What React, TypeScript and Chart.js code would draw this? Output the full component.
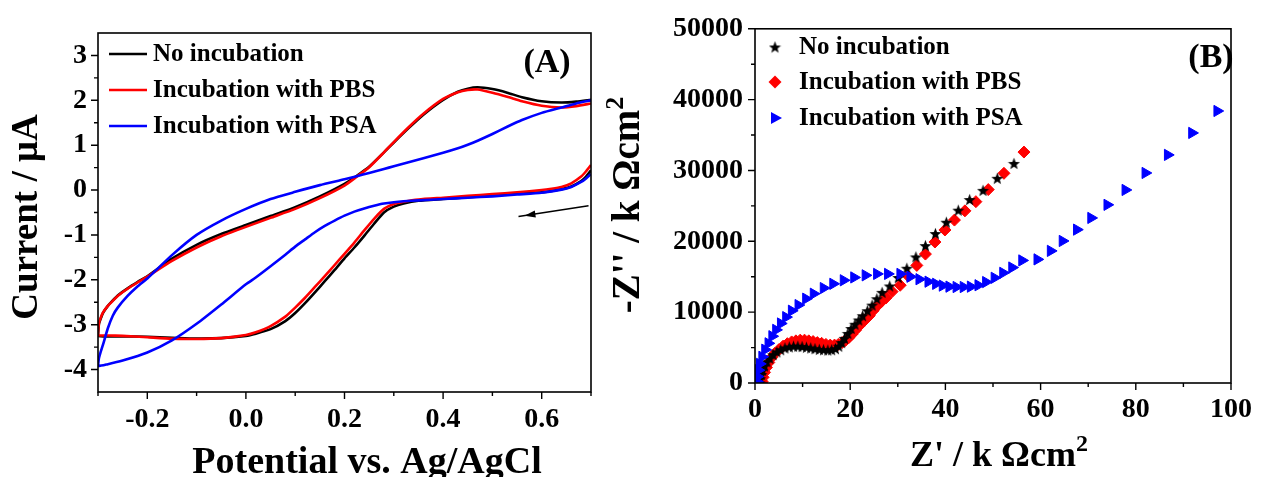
import React, { useEffect, useRef } from 'react';
import { Chart, registerables } from 'chart.js';

Chart.register(...registerables);

const SERIF = "'Liberation Serif', 'Times New Roman', serif";

const seriesNames = ['No incubation', 'Incubation with PBS', 'Incubation with PSA'];
const seriesColors = ['#000000', '#ff0000', '#0000ff'];

// ---------- Panel A : cyclic voltammograms (V vs Ag/AgCl, µA) ----------
// cathodic sweep 0.7 V -> -0.3 V
const cvPotentialCathodic = [0.70, 0.69, 0.68, 0.66, 0.64, 0.62, 0.60, 0.55, 0.50, 0.45, 0.40, 0.35, 0.32, 0.30, 0.28, 0.26, 0.24, 0.22, 0.20, 0.18, 0.16, 0.14, 0.12, 0.10, 0.08, 0.05, 0.02, 0.00, -0.05, -0.10, -0.15, -0.20, -0.25, -0.28, -0.30];
const cvNoIncCathodic = [0.44, 0.30, 0.20, 0.08, 0.02, -0.02, -0.05, -0.08, -0.12, -0.16, -0.20, -0.24, -0.30, -0.37, -0.50, -0.75, -1.02, -1.28, -1.52, -1.78, -2.03, -2.28, -2.52, -2.74, -2.92, -3.10, -3.20, -3.25, -3.30, -3.31, -3.29, -3.27, -3.26, -3.26, -3.25];
const cvPbsCathodic = [0.56, 0.42, 0.30, 0.15, 0.07, 0.03, 0.00, -0.05, -0.09, -0.13, -0.17, -0.21, -0.26, -0.31, -0.42, -0.64, -0.90, -1.17, -1.42, -1.67, -1.92, -2.16, -2.40, -2.62, -2.82, -3.03, -3.17, -3.23, -3.30, -3.32, -3.31, -3.28, -3.25, -3.24, -3.23];
const cvPsaCathodic = [0.36, 0.26, 0.18, 0.07, 0.01, -0.03, -0.06, -0.10, -0.14, -0.17, -0.20, -0.23, -0.25, -0.27, -0.30, -0.35, -0.41, -0.48, -0.57, -0.68, -0.80, -0.94, -1.10, -1.26, -1.44, -1.70, -1.95, -2.10, -2.55, -2.98, -3.35, -3.62, -3.80, -3.88, -3.92];
// anodic sweep -0.3 V -> 0.7 V
const cvPotentialAnodic = [-0.299, -0.298, -0.295, -0.29, -0.28, -0.27, -0.26, -0.24, -0.22, -0.20, -0.15, -0.10, -0.05, 0.00, 0.05, 0.10, 0.15, 0.20, 0.225, 0.25, 0.28, 0.30, 0.33, 0.36, 0.40, 0.43, 0.45, 0.47, 0.50, 0.53, 0.56, 0.60, 0.64, 0.67, 0.70];
const cvNoIncAnodic = [-3.10, -2.98, -2.88, -2.74, -2.58, -2.46, -2.35, -2.19, -2.05, -1.92, -1.53, -1.22, -0.98, -0.78, -0.58, -0.38, -0.14, 0.14, 0.32, 0.52, 0.84, 1.06, 1.38, 1.68, 2.01, 2.19, 2.26, 2.29, 2.25, 2.17, 2.07, 1.98, 1.95, 1.97, 2.01];
const cvPbsAnodic = [-3.05, -2.96, -2.86, -2.73, -2.58, -2.47, -2.36, -2.20, -2.06, -1.93, -1.58, -1.28, -1.03, -0.82, -0.62, -0.42, -0.18, 0.10, 0.30, 0.51, 0.84, 1.07, 1.40, 1.70, 2.03, 2.18, 2.23, 2.24, 2.17, 2.08, 1.98, 1.88, 1.84, 1.87, 1.93];
const cvPsaAnodic = [-3.82, -3.74, -3.62, -3.45, -3.08, -2.80, -2.62, -2.36, -2.15, -1.97, -1.45, -1.00, -0.68, -0.42, -0.20, -0.04, 0.11, 0.24, 0.31, 0.38, 0.47, 0.53, 0.62, 0.71, 0.83, 0.93, 1.01, 1.10, 1.25, 1.41, 1.56, 1.72, 1.84, 1.93, 2.00];

const cvXTicks = [-0.2, 0.0, 0.2, 0.4, 0.6];
const cvXMinor = [-0.3, -0.1, 0.1, 0.3, 0.5, 0.7];
const cvYTicks = [-4, -3, -2, -1, 0, 1, 2, 3];
const cvYMinor = [-3.5, -2.5, -1.5, -0.5, 0.5, 1.5, 2.5];
const cvArrowFrom = [0.695, -0.35];
const cvArrowTo = [0.565, -0.57];

// ---------- Panel B : Nyquist plots (Z' in kΩcm², -Z'') ----------
const eisNoIncZre = [1.0, 1.1, 1.3, 1.6, 2.0, 2.5, 3.1, 3.8, 4.6, 5.4, 6.3, 7.2, 8.1, 9.0, 9.9, 10.8, 11.7, 12.6, 13.5, 14.4, 15.3, 16.1, 16.9, 17.6, 18.2, 18.8, 19.5, 20.2, 21.0, 21.8, 22.6, 23.6, 24.6, 25.6, 26.7, 28.3, 30.1, 31.9, 33.8, 35.8, 37.9, 40.2, 42.7, 45.1, 47.9, 50.9, 54.4];
const eisNoIncZim = [0, 600, 1200, 1800, 2400, 3000, 3500, 4000, 4400, 4700, 4950, 5100, 5200, 5200, 5150, 5050, 4950, 4850, 4750, 4700, 4650, 4700, 4850, 5200, 5700, 6300, 7000, 7700, 8300, 8900, 9500, 10200, 11000, 11900, 12800, 13700, 14900, 16200, 17800, 19400, 21100, 22700, 24400, 25900, 27200, 28900, 31000];
const eisPbsZre = [1.5, 1.7, 2.0, 2.4, 2.9, 3.5, 4.2, 5.0, 5.9, 6.8, 7.7, 8.6, 9.5, 10.4, 11.3, 12.2, 13.1, 14.0, 14.9, 15.8, 16.7, 17.5, 18.3, 19.0, 19.7, 20.4, 21.1, 21.8, 22.5, 23.2, 24.0, 24.8, 25.7, 26.6, 27.5, 28.8, 30.5, 32.2, 34.0, 35.8, 37.8, 39.9, 41.9, 44.1, 46.4, 49.0, 52.3, 56.5];
const eisPbsZim = [200, 800, 1500, 2200, 2900, 3600, 4200, 4700, 5200, 5550, 5800, 5950, 6050, 6050, 5950, 5850, 5700, 5600, 5450, 5350, 5350, 5450, 5700, 6000, 6400, 6900, 7450, 8000, 8500, 8950, 9500, 10200, 10900, 11500, 12000, 12900, 13800, 15100, 16600, 18200, 19900, 21600, 23000, 24300, 25600, 27300, 29600, 32600];
const eisPsaZre = [0.4, 0.5, 0.7, 1.0, 1.5, 2.1, 2.8, 3.6, 4.4, 5.4, 6.5, 7.7, 9.1, 10.7, 12.3, 14.4, 16.4, 18.6, 20.8, 23.2, 25.6, 27.9, 30.5, 32.6, 34.5, 36.4, 38.0, 39.4, 40.8, 42.3, 43.8, 45.3, 46.9, 48.5, 50.3, 52.1, 54.0, 56.1, 59.3, 62.1, 64.6, 67.6, 70.6, 74.0, 77.8, 82.0, 86.7, 91.8, 97.1];
const eisPsaZim = [200, 900, 1800, 2700, 3700, 4700, 5600, 6600, 7500, 8400, 9300, 10200, 11000, 11900, 12600, 13400, 14000, 14500, 14900, 15200, 15400, 15400, 15400, 15000, 14650, 14300, 14000, 13750, 13600, 13550, 13550, 13600, 13800, 14250, 14850, 15550, 16300, 17300, 17450, 18650, 20050, 21650, 23300, 25150, 27250, 29650, 32200, 35300, 38400];

const eisXTicks = [0, 20, 40, 60, 80, 100];
const eisXMinor = [10, 30, 50, 70, 90];
const eisYTicks = [0, 10000, 20000, 30000, 40000, 50000];
const eisYMinor = [5000, 15000, 25000, 35000, 45000];

// ---------------------------------------------------------------------
const zip = (xs: number[], ys: number[]) => xs.map((x, i) => ({ x, y: ys[i] }));

type Part = { text: string; size: number; rise?: number };

function drawRich(ctx: CanvasRenderingContext2D, parts: Part[], x: number, y: number, rotated: boolean) {
  ctx.save();
  let total = 0;
  const widths: number[] = [];
  for (const p of parts) {
    ctx.font = `bold ${p.size}px ${SERIF}`;
    const w = ctx.measureText(p.text).width;
    widths.push(w);
    total += w;
  }
  ctx.translate(x, y);
  if (rotated) ctx.rotate(-Math.PI / 2);
  ctx.fillStyle = '#000';
  ctx.textBaseline = 'alphabetic';
  ctx.textAlign = 'left';
  let cx = -total / 2;
  parts.forEach((p, i) => {
    ctx.font = `bold ${p.size}px ${SERIF}`;
    ctx.fillText(p.text, cx, -(p.rise || 0));
    cx += widths[i];
  });
  ctx.restore();
}

function drawFrameAndTicks(chart: any, xMajor: number[], xMinor: number[], yMajor: number[], yMinor: number[]) {
  const { ctx, chartArea: a, scales } = chart;
  ctx.save();
  ctx.strokeStyle = '#000';
  ctx.lineWidth = 1.6;
  ctx.strokeRect(a.left, a.top, a.right - a.left, a.bottom - a.top);
  ctx.lineWidth = 1.4;
  ctx.beginPath();
  for (const v of xMajor) {
    const p = scales.x.getPixelForValue(v);
    ctx.moveTo(p, a.bottom); ctx.lineTo(p, a.bottom + 7);
  }
  for (const v of xMinor) {
    const p = scales.x.getPixelForValue(v);
    ctx.moveTo(p, a.bottom); ctx.lineTo(p, a.bottom + 4);
  }
  for (const v of yMajor) {
    const p = scales.y.getPixelForValue(v);
    ctx.moveTo(a.left, p); ctx.lineTo(a.left - 7, p);
  }
  for (const v of yMinor) {
    const p = scales.y.getPixelForValue(v);
    ctx.moveTo(a.left, p); ctx.lineTo(a.left - 4, p);
  }
  ctx.stroke();
  ctx.restore();
}

function makeStar(size: number) {
  const c = document.createElement('canvas');
  c.width = size;
  c.height = size;
  const g = c.getContext('2d')!;
  const cx = size / 2, cy = size / 2 + 0.6;
  const R = size / 2 - 0.2, r = R * 0.42;
  g.beginPath();
  for (let i = 0; i < 10; i++) {
    const ang = -Math.PI / 2 + (i * Math.PI) / 5;
    const rad = i % 2 === 0 ? R : r;
    g.lineTo(cx + rad * Math.cos(ang), cy + rad * Math.sin(ang));
  }
  g.closePath();
  g.fillStyle = '#000';
  g.fill();
  return c;
}

const tickFont = { family: SERIF, size: 28, weight: 'bold' as const };

export default function App() {
  const refA = useRef<HTMLCanvasElement>(null);
  const refB = useRef<HTMLCanvasElement>(null);

  useEffect(() => {
    const star = makeStar(13);

    const cvData = [
      zip(cvPotentialCathodic, cvNoIncCathodic).concat(zip(cvPotentialAnodic, cvNoIncAnodic)),
      zip(cvPotentialCathodic, cvPbsCathodic).concat(zip(cvPotentialAnodic, cvPbsAnodic)),
      zip(cvPotentialCathodic, cvPsaCathodic).concat(zip(cvPotentialAnodic, cvPsaAnodic)),
    ];

    const pluginA = {
      id: 'panelA',
      afterDraw(chart: any) {
        const { ctx, scales } = chart;
        drawFrameAndTicks(chart, cvXTicks, cvXMinor, cvYTicks, cvYMinor);
        ctx.save();
        // legend
        const rows = [54, 90, 126];
        seriesNames.forEach((name, i) => {
          ctx.strokeStyle = seriesColors[i];
          ctx.lineWidth = 2.6;
          ctx.beginPath();
          ctx.moveTo(109, rows[i]);
          ctx.lineTo(147, rows[i]);
          ctx.stroke();
          ctx.fillStyle = '#000';
          ctx.font = `bold 25px ${SERIF}`;
          ctx.textBaseline = 'middle';
          ctx.textAlign = 'left';
          ctx.fillText(name, 153, rows[i] + 1);
        });
        // panel label
        ctx.font = `bold 34px ${SERIF}`;
        ctx.textAlign = 'center';
        ctx.textBaseline = 'middle';
        ctx.fillText('(A)', 547, 63);
        // arrow (scan direction)
        const x1 = scales.x.getPixelForValue(cvArrowFrom[0]);
        const y1 = scales.y.getPixelForValue(cvArrowFrom[1]);
        const x2 = scales.x.getPixelForValue(cvArrowTo[0]);
        const y2 = scales.y.getPixelForValue(cvArrowTo[1]);
        const ang = Math.atan2(y2 - y1, x2 - x1);
        ctx.strokeStyle = '#000';
        ctx.lineWidth = 1.5;
        ctx.beginPath();
        ctx.moveTo(x1, y1);
        ctx.lineTo(x2 + 6 * Math.cos(ang), y2 + 6 * Math.sin(ang));
        ctx.stroke();
        ctx.fillStyle = '#000';
        ctx.beginPath();
        ctx.moveTo(x2, y2);
        ctx.lineTo(x2 - 11 * Math.cos(ang) + 3.5 * Math.sin(ang), y2 - 11 * Math.sin(ang) - 3.5 * Math.cos(ang));
        ctx.lineTo(x2 - 11 * Math.cos(ang) - 3.5 * Math.sin(ang), y2 - 11 * Math.sin(ang) + 3.5 * Math.cos(ang));
        ctx.closePath();
        ctx.fill();
        ctx.restore();
        // axis titles
        drawRich(ctx, [{ text: 'Potential vs. Ag/AgCl', size: 38 }], 367, 473, false);
        drawRich(ctx, [{ text: 'Current / \u03BCA', size: 37 }], 37, 217, true);
      },
    };

    const chartA = new Chart(refA.current!, {
      type: 'scatter',
      data: {
        datasets: cvData.map((d, i) => ({
          label: seriesNames[i],
          data: d,
          showLine: true,
          borderColor: seriesColors[i],
          backgroundColor: seriesColors[i],
          borderWidth: 2.6,
          pointRadius: 0,
          tension: 0.2,
          order: 2 - i,
        })),
      },
      options: {
        responsive: false,
        animation: false,
        devicePixelRatio: 1,
        layout: { padding: { left: 0, right: 671, top: 33, bottom: 0 } },
        plugins: { legend: { display: false }, tooltip: { enabled: false } },
        scales: {
          x: {
            type: 'linear',
            min: -0.3,
            max: 0.7,
            grid: { display: false, drawTicks: false },
            border: { display: false },
            afterBuildTicks: (s: any) => { s.ticks = cvXTicks.map((v) => ({ value: v })); },
            afterFit: (s: any) => { s.height = 85; },
            ticks: { font: tickFont, color: '#000', padding: 11, maxRotation: 0, autoSkip: false, callback: (v: any) => Number(v).toFixed(1) },
          },
          y: {
            type: 'linear',
            min: -4.5,
            max: 3.5,
            grid: { display: false, drawTicks: false },
            border: { display: false },
            afterBuildTicks: (s: any) => { s.ticks = cvYTicks.map((v) => ({ value: v })); },
            afterFit: (s: any) => { s.width = 98; },
            ticks: { font: tickFont, color: '#000', padding: 11, autoSkip: false, callback: (v: any) => String(v) },
          },
        },
      },
      plugins: [pluginA],
    } as any);

    const pluginB = {
      id: 'panelB',
      afterDraw(chart: any) {
        const { ctx } = chart;
        drawFrameAndTicks(chart, eisXTicks, eisXMinor, eisYTicks, eisYMinor);
        ctx.save();
        const rows = [47, 82, 118];
        // legend markers
        ctx.drawImage(star, 775 - 6.5, rows[0] - 6.5);
        ctx.fillStyle = seriesColors[1];
        ctx.beginPath();
        ctx.moveTo(775, rows[1] - 6.5);
        ctx.lineTo(781.5, rows[1]);
        ctx.lineTo(775, rows[1] + 6.5);
        ctx.lineTo(768.5, rows[1]);
        ctx.closePath();
        ctx.fill();
        ctx.fillStyle = seriesColors[2];
        ctx.beginPath();
        ctx.moveTo(782, rows[2]);
        ctx.lineTo(771, rows[2] - 6);
        ctx.lineTo(771, rows[2] + 6);
        ctx.closePath();
        ctx.fill();
        ctx.fillStyle = '#000';
        ctx.font = `bold 25px ${SERIF}`;
        ctx.textBaseline = 'middle';
        ctx.textAlign = 'left';
        seriesNames.forEach((name, i) => ctx.fillText(name, 799, rows[i] + 1));
        ctx.font = `bold 34px ${SERIF}`;
        ctx.textAlign = 'center';
        ctx.fillText('(B)', 1211, 58);
        ctx.restore();
        drawRich(ctx, [{ text: "Z' / k \u03A9cm", size: 36 }, { text: '2', size: 24, rise: 15 }], 999, 466, false);
        drawRich(ctx, [{ text: "-Z'' / k \u03A9cm", size: 39 }, { text: '2', size: 26, rise: 16 }], 639, 205, true);
      },
    };

    const chartB = new Chart(refB.current!, {
      type: 'scatter',
      data: {
        datasets: [
          {
            label: seriesNames[0],
            data: zip(eisNoIncZre, eisNoIncZim),
            pointStyle: star,
            pointRadius: 6,
            backgroundColor: seriesColors[0],
            borderColor: seriesColors[0],
            order: 1,
          },
          {
            label: seriesNames[1],
            data: zip(eisPbsZre, eisPbsZim),
            pointStyle: 'rectRot',
            pointRadius: 6,
            borderWidth: 1,
            backgroundColor: seriesColors[1],
            borderColor: seriesColors[1],
            order: 2,
          },
          {
            label: seriesNames[2],
            data: zip(eisPsaZre, eisPsaZim),
            pointStyle: 'triangle',
            rotation: 90,
            pointRadius: 6.5,
            borderWidth: 1,
            backgroundColor: seriesColors[2],
            borderColor: seriesColors[2],
            order: 0,
          },
        ],
      },
      options: {
        responsive: false,
        animation: false,
        devicePixelRatio: 1,
        layout: { padding: { left: 655, right: 19, top: 27, bottom: 0 } },
        plugins: { legend: { display: false }, tooltip: { enabled: false } },
        scales: {
          x: {
            type: 'linear',
            min: 0,
            max: 100,
            grid: { display: false, drawTicks: false },
            border: { display: false },
            afterBuildTicks: (s: any) => { s.ticks = eisXTicks.map((v) => ({ value: v })); },
            afterFit: (s: any) => { s.height = 94; },
            ticks: { font: tickFont, color: '#000', padding: 10, maxRotation: 0, autoSkip: false, callback: (v: any) => String(v) },
          },
          y: {
            type: 'linear',
            min: 0,
            max: 50000,
            grid: { display: false, drawTicks: false },
            border: { display: false },
            afterBuildTicks: (s: any) => { s.ticks = eisYTicks.map((v) => ({ value: v })); },
            afterFit: (s: any) => { s.width = 100; },
            ticks: { font: tickFont, color: '#000', padding: 12, autoSkip: false, callback: (v: any) => String(v) },
          },
        },
      },
      plugins: [pluginB],
    } as any);

    return () => {
      chartA.destroy();
      chartB.destroy();
    };
  }, []);

  return (
    <div style={{ position: 'absolute', left: 0, top: 0, width: 1262, height: 477, background: '#fff', overflow: 'hidden' }}>
      <canvas ref={refA} width={1262} height={477} style={{ position: 'absolute', left: 0, top: 0 }} />
      <canvas ref={refB} width={1262} height={477} style={{ position: 'absolute', left: 0, top: 0 }} />
    </div>
  );
}
